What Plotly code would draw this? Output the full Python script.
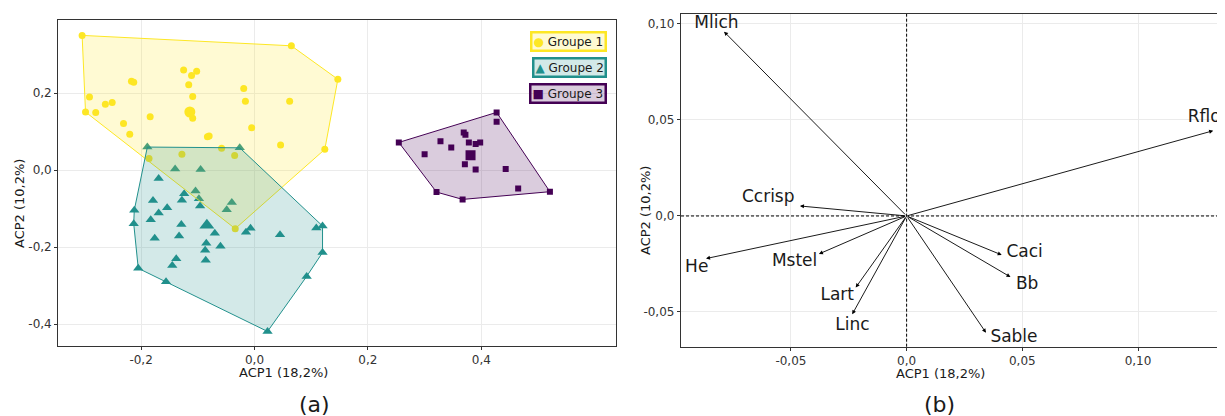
import plotly.graph_objects as go

# ---------------- data: individuals (panel a) ----------------
g1_x = [-0.304, 0.065, 0.147, 0.124, -0.034, -0.298, -0.291, -0.280, -0.263, -0.251,
        -0.217, -0.213, -0.231, -0.220, -0.184, -0.186, -0.125, -0.111, -0.102, -0.116,
        -0.109, -0.109, -0.083, -0.080, -0.128, -0.058, -0.035, -0.019, -0.016, -0.005,
        0.046, 0.062]
g1_y = [0.350, 0.323, 0.236, 0.054, -0.152, 0.151, 0.190, 0.150, 0.171, 0.176,
        0.231, 0.228, 0.121, 0.093, 0.139, 0.030, 0.260, 0.246, 0.257, 0.222,
        0.191, 0.135, 0.087, 0.089, 0.041, 0.057, 0.038, 0.212, 0.179, 0.110,
        0.065, 0.179]
g1_mean = (-0.114, 0.151)

g2_x = [-0.189, -0.026, -0.140, -0.095, -0.169, -0.124, -0.104, -0.128, -0.098, -0.096,
        -0.179, -0.154, -0.169, -0.040, -0.049, -0.212, -0.213, -0.183, -0.129, -0.070,
        -0.133, -0.176, -0.085, -0.060, -0.087, -0.086, -0.138, -0.145, -0.205, -0.156,
        -0.015, -0.007, 0.045, 0.109, 0.120, 0.120, 0.092, 0.023]
g2_y = [0.060, 0.058, 0.003, 0.002, -0.022, -0.061, -0.054, -0.078, -0.074, -0.093,
        -0.079, -0.098, -0.111, -0.084, -0.103, -0.104, -0.139, -0.129, -0.141, -0.164,
        -0.171, -0.177, -0.190, -0.198, -0.208, -0.234, -0.230, -0.248, -0.255, -0.290,
        -0.161, -0.151, -0.168, -0.150, -0.145, -0.214, -0.276, -0.419]
g2_mean = (-0.084, -0.143)

g3_x = [0.2545, 0.427, 0.427, 0.521, 0.465, 0.367, 0.321, 0.300, 0.328, 0.347,
        0.369, 0.372, 0.378, 0.390, 0.398, 0.371, 0.390, 0.443]
g3_y = [0.072, 0.150, 0.126, -0.056, -0.048, -0.076, -0.057, 0.041, 0.075, 0.059,
        0.098, 0.092, 0.072, 0.068, 0.072, 0.015, 0.002, 0.003]
g3_mean = (0.381, 0.039)

group_names = ["Groupe 1", "Groupe 2", "Groupe 3"]
group_colors = ["#FDE725", "#21908C", "#440154"]
group_fills = ["rgba(253,231,37,0.2)", "rgba(33,144,140,0.2)", "rgba(68,1,84,0.2)"]
group_symbols = ["circle", "triangle-up", "square"]
legend_glyphs = ["●", "▲", "■"]

# ---------------- data: variables (panel b) ----------------
var_names = ["Mlich", "Rflor", "Ccrisp", "He", "Mstel", "Lart", "Linc", "Caci", "Bb", "Sable"]
var_x = [-0.0789, 0.1325, -0.0461, -0.0867, -0.0379, -0.0220, -0.0235, 0.0411, 0.0449, 0.0343]
var_y = [0.0960, 0.0444, 0.0052, -0.0222, -0.0198, -0.0373, -0.0512, -0.0203, -0.0318, -0.0608]
lab_x = [-0.0822, 0.1301, -0.0598, -0.0907, -0.0484, -0.0300, -0.0234, 0.0510, 0.0521, 0.0464]
lab_y = [0.1000, 0.0509, 0.0097, -0.0272, -0.0241, -0.0415, -0.0573, -0.0191, -0.0359, -0.0632]

# ---------------- tick labels ----------------
a_xticks = [-0.2, 0.0, 0.2, 0.4]
a_xtext = ["-0,2", "0,0", "0,2", "0,4"]
a_yticks = [-0.4, -0.2, 0.0, 0.2]
a_ytext = ["-0,4", "-0,2", "0,0", "0,2"]
b_xticks = [-0.05, 0.0, 0.05, 0.10]
b_xtext = ["-0,05", "0,0", "0,05", "0,10"]
b_yticks = [-0.05, 0.0, 0.05, 0.10]
b_ytext = ["-0,05", "0,0", "0,05", "0,10"]

# page is drawn with an 8px body margin; convert page pixels to paper coords
OFF = 8
W, H = 1225 - OFF, 416 - OFF


def px(xp):
    return (xp - OFF) / W


def py(yp):
    return 1 - (yp - OFF) / H


def convex_hull(xs, ys):
    pts = sorted(set(zip(xs, ys)))

    def cross(o, a, b):
        return (a[0] - o[0]) * (b[1] - o[1]) - (a[1] - o[1]) * (b[0] - o[0])

    lower, upper = [], []
    for p in pts:
        while len(lower) >= 2 and cross(lower[-2], lower[-1], p) <= 0:
            lower.pop()
        lower.append(p)
    for p in reversed(pts):
        while len(upper) >= 2 and cross(upper[-2], upper[-1], p) <= 0:
            upper.pop()
        upper.append(p)
    hull = lower[:-1] + upper[:-1]
    hull.append(hull[0])
    return [p[0] for p in hull], [p[1] for p in hull]


fig = go.Figure()

groups = [(g1_x, g1_y, g1_mean), (g2_x, g2_y, g2_mean), (g3_x, g3_y, g3_mean)]
sizes = [7, 9, 6]

# points first
for i, (gx, gy, gm) in enumerate(groups):
    fig.add_trace(go.Scatter(
        x=gx, y=gy, mode="markers", name=group_names[i],
        marker=dict(symbol=group_symbols[i], color=group_colors[i], size=sizes[i], line=dict(width=0)),
        xaxis="x", yaxis="y", showlegend=False))
    fig.add_trace(go.Scatter(
        x=[gm[0]], y=[gm[1]], mode="markers", name=group_names[i] + " (moyenne)",
        marker=dict(symbol=group_symbols[i], color=group_colors[i], size=sizes[i] + 4, line=dict(width=0)),
        xaxis="x", yaxis="y", showlegend=False, hoverinfo="skip"))

# hulls on top
for i, (gx, gy, gm) in enumerate(groups):
    hx, hy = convex_hull(gx, gy)
    fig.add_trace(go.Scatter(
        x=hx, y=hy, mode="lines", fill="toself", fillcolor=group_fills[i],
        line=dict(color=group_colors[i], width=1),
        xaxis="x", yaxis="y", showlegend=False, hoverinfo="skip"))

# variable labels
fig.add_trace(go.Scatter(
    x=lab_x, y=lab_y, mode="text", text=var_names,
    textfont=dict(size=17, color="#1a1a1a", family="DejaVu Sans"),
    textposition="middle center", cliponaxis=False,
    xaxis="x2", yaxis="y2", showlegend=False, hoverinfo="skip"))

annotations = []
for vx, vy in zip(var_x, var_y):
    annotations.append(dict(
        x=vx, y=vy, ax=0, ay=0, xref="x2", yref="y2", axref="x2", ayref="y2",
        text="", showarrow=True, arrowhead=2, arrowsize=0.9, arrowwidth=0.9,
        arrowcolor="black", standoff=0))

title_font = dict(size=13, color="#1a1a1a", family="DejaVu Sans")
annotations += [
    dict(text="ACP1 (18,2%)", x=px(283.5), y=py(372), xref="paper", yref="paper",
         showarrow=False, font=title_font, xanchor="center", yanchor="middle"),
    dict(text="ACP1 (18,2%)", x=px(940.5), y=py(373), xref="paper", yref="paper",
         showarrow=False, font=title_font, xanchor="center", yanchor="middle"),
    dict(text="ACP2 (10,2%)", x=px(19), y=py(204), xref="paper", yref="paper",
         showarrow=False, font=title_font, textangle=-90, xanchor="center", yanchor="middle"),
    dict(text="ACP2 (10,2%)", x=px(645), y=py(211), xref="paper", yref="paper",
         showarrow=False, font=title_font, textangle=-90, xanchor="center", yanchor="middle"),
    dict(text="(a)", x=px(314), y=py(404), xref="paper", yref="paper",
         showarrow=False, font=dict(size=22, color="#1a1a1a", family="DejaVu Sans"),
         xanchor="center", yanchor="middle"),
    dict(text="(b)", x=px(939.5), y=py(404), xref="paper", yref="paper",
         showarrow=False, font=dict(size=22, color="#1a1a1a", family="DejaVu Sans"),
         xanchor="center", yanchor="middle"),
]

# legend boxes (one per group, as in the reference)
legend_tops = [31, 57, 83]
for i in range(3):
    annotations.append(dict(
        text=f"<span style='color:{group_colors[i]}'>{legend_glyphs[i]}</span> {group_names[i]}",
        x=px(607), y=py(legend_tops[i]), xref="paper", yref="paper",
        xanchor="right", yanchor="top", showarrow=False, align="left",
        font=dict(size=12, color="#1a1a1a", family="DejaVu Sans"),
        bgcolor=group_fills[i], bordercolor=group_colors[i], borderwidth=2.5, borderpad=1))

shapes = [
    dict(type="line", xref="x2", yref="y2 domain", x0=0, x1=0, y0=0, y1=1,
         line=dict(color="black", width=1, dash="3px,2px")),
    dict(type="line", xref="x2 domain", yref="y2", x0=0, x1=1, y0=0, y1=0,
         line=dict(color="black", width=1, dash="3px,2px")),
]

axis_common = dict(
    showgrid=True, gridcolor="#EBEBEB", gridwidth=1, zeroline=False,
    showline=True, linecolor="#333333", linewidth=1.3,
    ticks="outside", ticklen=3, tickcolor="#333333", tickwidth=1,
    tickfont=dict(size=12, color="#333333", family="DejaVu Sans"),
)

fig.update_layout(
    width=W, height=H,
    margin=dict(l=0, r=0, t=0, b=0),
    paper_bgcolor="white", plot_bgcolor="white",
    font=dict(family="DejaVu Sans"),
    showlegend=False,
    xaxis=dict(domain=[px(58.3), px(615.7)], range=[-0.346, 0.637],
               tickvals=a_xticks, ticktext=a_xtext, mirror=True, anchor="y", **axis_common),
    yaxis=dict(domain=[py(345.7), py(20)], range=[-0.456, 0.39],
               tickvals=a_yticks, ticktext=a_ytext, mirror=True, anchor="x", **axis_common),
    xaxis2=dict(domain=[px(681), 1.0], range=[-0.0975, 0.1376],
                tickvals=b_xticks, ticktext=b_xtext, mirror=True, anchor="y2", **axis_common),
    yaxis2=dict(domain=[py(346.7), py(14)], range=[-0.0681, 0.1052],
                tickvals=b_yticks, ticktext=b_ytext, mirror=False, anchor="x2", **axis_common),
    annotations=annotations,
    shapes=shapes,
)

fig.write_html("out.html")
